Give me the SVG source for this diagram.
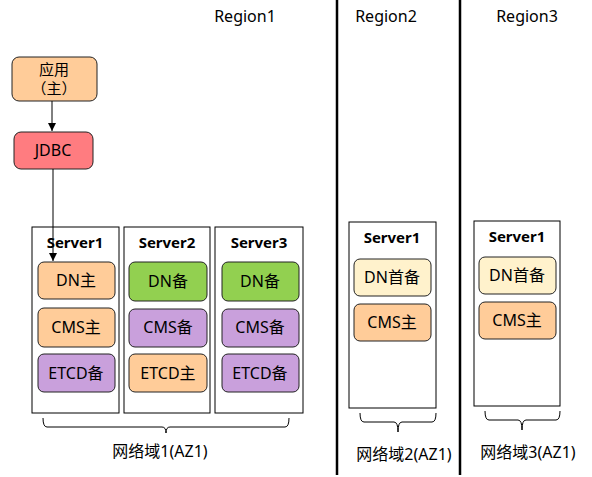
<svg xmlns="http://www.w3.org/2000/svg" width="592" height="477" viewBox="0 0 592 477">
<defs>
<style>
text{font-family:"Noto Sans","Noto Sans CJK SC",sans-serif;fill:#000;text-anchor:middle}
.t{font-size:16px}
.l{font-size:16px}
.b{font-size:15px;font-weight:bold}
.r{font-size:16px}
.srv{fill:#fff;stroke:#000;stroke-width:1}
.m{stroke:#222;stroke-width:1}
.or{fill:#FFCC99}
.gr{fill:#92D050}
.pu{fill:#C9A0DC}
.ye{fill:#FFF2CC}
.rd{fill:#FF7C80}
.br{fill:none;stroke:#000;stroke-width:1}
</style>
<marker id="ar" viewBox="0 0 10 10" refX="10" refY="5" markerWidth="8" markerHeight="8" markerUnits="userSpaceOnUse" orient="auto"><path d="M0,0L10,5L0,10z" fill="#000"/></marker>
</defs>
<g id="dividers">
<line x1="337" y1="0" x2="337" y2="475" stroke="#000" stroke-width="2.5"/>
<line x1="460" y1="0" x2="460" y2="475" stroke="#000" stroke-width="2.5"/>
</g>
<text class="r" x="245" y="22">Region1</text>
<text class="r" x="386" y="22">Region2</text>
<text class="r" x="527" y="22">Region3</text>
<g id="app"><rect class="m or" x="12" y="57" width="85" height="44" rx="7"/><text class="t" x="54" y="75" style="font-size:15px">应用</text><text class="t" x="54" y="94" style="font-size:15px">（主）</text></g>
<g id="jdbc"><rect class="m rd" x="14" y="132" width="79" height="37" rx="7"/><text class="t" x="53" y="156">JDBC</text></g>
<g id="r1s1"><rect class="srv" x="32" y="227" width="87" height="186"/><text class="b" x="75" y="248">Server1</text>
<rect class="m or" x="38" y="262" width="77" height="37" rx="6"/><text class="t" x="76" y="286">DN主</text>
<rect class="m or" x="38" y="308" width="77" height="39" rx="6"/><text class="t" x="76" y="333">CMS主</text>
<rect class="m pu" x="38" y="354" width="77" height="38" rx="6"/><text class="t" x="76" y="379">ETCD备</text></g>
<g id="r1s2"><rect class="srv" x="124" y="227" width="86" height="186"/><text class="b" x="167" y="248">Server2</text>
<rect class="m gr" x="129" y="262" width="78" height="39" rx="6"/><text class="t" x="168" y="287">DN备</text>
<rect class="m pu" x="129" y="309" width="78" height="38" rx="6"/><text class="t" x="168" y="333">CMS备</text>
<rect class="m or" x="129" y="354" width="78" height="38" rx="6"/><text class="t" x="168" y="379">ETCD主</text></g>
<g id="r1s3"><rect class="srv" x="215" y="227" width="88" height="186"/><text class="b" x="259" y="248">Server3</text>
<rect class="m gr" x="222" y="262" width="77" height="39" rx="6"/><text class="t" x="260" y="287">DN备</text>
<rect class="m pu" x="222" y="309" width="77" height="38" rx="6"/><text class="t" x="260" y="333">CMS备</text>
<rect class="m pu" x="222" y="354" width="77" height="38" rx="6"/><text class="t" x="260" y="379">ETCD备</text></g>
<g id="r2s1"><rect class="srv" x="349" y="222" width="87" height="186"/><text class="b" x="392" y="243">Server1</text>
<rect class="m ye" x="354" y="259" width="77" height="37" rx="6"/><text class="t" x="392" y="283">DN首备</text>
<rect class="m or" x="354" y="304" width="77" height="37" rx="6"/><text class="t" x="392" y="328">CMS主</text></g>
<g id="r3s1"><rect class="srv" x="474" y="221" width="86" height="185"/><text class="b" x="517" y="242">Server1</text>
<rect class="m ye" x="479" y="257" width="77" height="37" rx="6"/><text class="t" x="517" y="281">DN首备</text>
<rect class="m or" x="479" y="302" width="77" height="37" rx="6"/><text class="t" x="517" y="326">CMS主</text></g>
<g id="braces">
<path class="br" d="M43,418 Q43,427 47,427 L162,427 Q166,427 166,433 Q166,427 170,427 L285,427 Q289,427 289,418"/>
<path class="br" d="M360,413 Q360,422 364,422 L394,422 Q398,422 398,432 Q398,422 402,422 L432,422 Q436,422 436,413"/>
<path class="br" d="M485,411 Q485,420 489,420 L518,420 Q522,420 522,430 Q522,420 526,420 L556,420 Q560,420 560,411"/>
</g>
<text class="l" x="160" y="457">网络域1(AZ1)</text>
<text class="l" x="404" y="460">网络域2(AZ1)</text>
<text class="l" x="528" y="458">网络域3(AZ1)</text>
<g id="connectors">
<line x1="52" y1="101" x2="52" y2="131" stroke="#000" stroke-width="1" marker-end="url(#ar)"/>
<line x1="53" y1="169" x2="53" y2="261" stroke="#000" stroke-width="1" marker-end="url(#ar)"/>
</g>
</svg>
